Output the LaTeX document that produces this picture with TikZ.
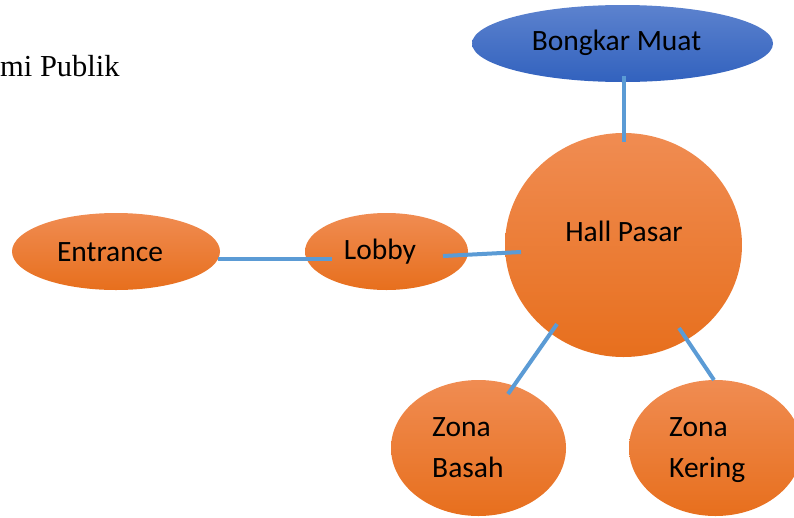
\documentclass[tikz,border=0pt]{standalone}
\usepackage{fontspec}
\setmainfont{Carlito}
\newfontfamily\titlefont{Liberation Serif}
\usetikzlibrary{shapes.geometric}

\definecolor{orTop}{RGB}{240,140,82}
\definecolor{orMid}{RGB}{243,125,45}
\definecolor{orBot}{RGB}{231,111,29}
\definecolor{blTop}{RGB}{92,130,206}
\definecolor{blBot}{RGB}{50,98,190}
\definecolor{link}{RGB}{91,155,213}

\tikzset{
  bubble/.style={ellipse, draw=none, inner sep=0pt, shading=axis,
    top color=orTop, middle color=orMid, bottom color=orBot},
  bluebubble/.style={ellipse, draw=none, inner sep=0pt, shading=axis,
    top color=blTop, bottom color=blBot},
  lbl/.style={inner sep=0pt, font=\fontsize{29.5}{40}\selectfont, text=black},
  linelbl/.style={lbl, anchor=base west},
  link/.style={draw=link, line width=4pt}
}

\begin{document}
\begin{tikzpicture}[x=1pt, y=-1pt]
  \useasboundingbox (0,0) rectangle (794,517);

  % caption fragment
  \node[anchor=base west, inner sep=0pt, font=\titlefont\fontsize{30.5}{36}\selectfont]
    (caption) at (0,76) {mi Publik};

  % bubbles
  \node[bubble, minimum width=208pt, minimum height=77pt] (entrance) at (116,251.5) {};
  \node[bubble, minimum width=163pt, minimum height=77pt] (lobby) at (386.5,251.5) {};
  \node[bubble, minimum width=237pt, minimum height=224pt] (hall) at (623.5,245) {};
  \node[bluebubble, minimum width=301pt, minimum height=77pt] (bongkar) at (622.5,43.5) {};
  \node[bubble, minimum width=175pt, minimum height=136pt] (basah) at (478.5,448) {};
  \node[bubble, minimum width=173pt, minimum height=136pt] (kering) at (715.5,448) {};

  % texts
  \node[lbl] (t-entrance) at (110,252) {Entrance};
  \node[lbl] (t-lobby) at (380,252) {Lobby};
  \node[lbl] (t-hall) at (624,231) {Hall Pasar};
  \node[lbl] (t-bongkar) at (616.5,43) {Bongkar Muat};
  \node[linelbl] (t-basah1) at (432,436) {Zona};
  \node[linelbl] (t-basah2) at (432,477) {Basah};
  \node[linelbl] (t-kering1) at (669,436) {Zona};
  \node[linelbl] (t-kering2) at (669,477) {Kering};

  % connector end points
  \coordinate (e1) at (218,259);
  \coordinate (l1) at (332,259);
  \coordinate (l2) at (443,256);
  \coordinate (h1) at (521,252);
  \coordinate (b1) at (624,76);
  \coordinate (h2) at (624,142);
  \coordinate (h3) at (557,324);
  \coordinate (z1) at (508,394);
  \coordinate (h4) at (679,328);
  \coordinate (z2) at (714,380);

  % connectors
  \draw[link] (e1) -- (l1);
  \draw[link] (l2) -- (h1);
  \draw[link] (b1) -- (h2);
  \draw[link] (h3) -- (z1);
  \draw[link] (h4) -- (z2);
\end{tikzpicture}
\end{document}
